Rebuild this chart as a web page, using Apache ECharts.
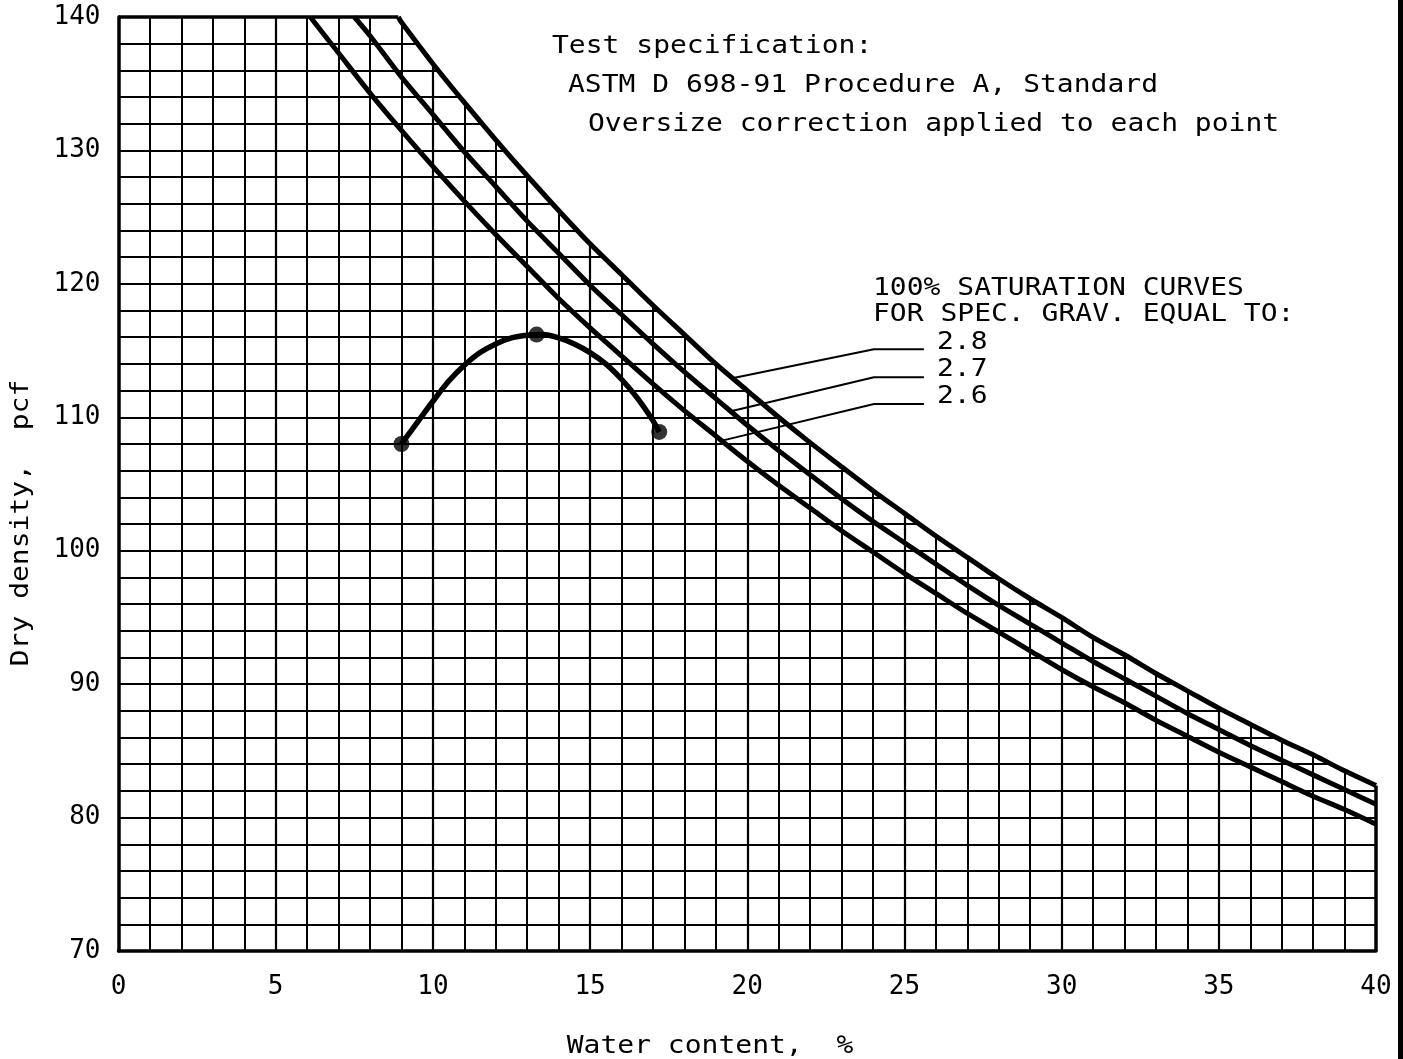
<!DOCTYPE html>
<html>
<head>
<meta charset="utf-8">
<script src="https://cdn.jsdelivr.net/npm/echarts@6/dist/echarts.min.js"></script>
<style>
html,body{margin:0;padding:0;background:#fff;}
#chart{width:1403px;height:1059px;}
</style>
</head>
<body>
<div id="chart"></div>
<script>
// Axis ranges (water content %, dry density pcf)
const xRange = [0, 40, 5];
const yRange = [70, 140, 10];

// 100% saturation curves
const sat28X = [8.9, 9, 10, 11, 12, 13, 14, 15, 16, 17, 18, 19, 20, 21, 22, 23, 24, 25, 26, 27, 28, 29, 30, 31, 32, 33, 34, 35, 36, 37, 38, 39, 40];
const sat28Y = [140, 139.6, 136.5, 133.6, 130.8, 128.1, 125.5, 123.0, 120.7, 118.4, 116.2, 114.0, 112.0, 110.0, 108.1, 106.3, 104.5, 102.8, 101.1, 99.5, 97.9, 96.4, 95.0, 93.5, 92.2, 90.8, 89.5, 88.2, 87.0, 85.8, 84.7, 83.5, 82.4];
const sat27X = [7.5, 8, 9, 10, 11, 12, 13, 14, 15, 16, 17, 18, 19, 20, 21, 22, 23, 24, 25, 26, 27, 28, 29, 30, 31, 32, 33, 34, 35, 36, 37, 38, 39, 40];
const sat27Y = [140, 138.6, 135.5, 132.7, 129.9, 127.3, 124.7, 122.3, 119.9, 117.7, 115.5, 113.4, 111.4, 109.4, 107.5, 105.7, 103.9, 102.2, 100.6, 99.0, 97.4, 95.9, 94.5, 93.1, 91.7, 90.4, 89.1, 87.8, 86.6, 85.4, 84.3, 83.2, 82.1, 81.0];
const sat26X = [6.1, 7, 8, 9, 10, 11, 12, 13, 14, 15, 16, 17, 18, 19, 20, 21, 22, 23, 24, 25, 26, 27, 28, 29, 30, 31, 32, 33, 34, 35, 36, 37, 38, 39, 40];
const sat26Y = [140, 137.3, 134.3, 131.5, 128.8, 126.2, 123.7, 121.3, 118.9, 116.7, 114.6, 112.5, 110.5, 108.6, 106.7, 104.9, 103.2, 101.5, 99.9, 98.3, 96.8, 95.3, 93.9, 92.5, 91.1, 89.8, 88.6, 87.3, 86.1, 84.9, 83.8, 82.7, 81.6, 80.6, 79.5];

// Compaction curve (fitted line) and test points
const curveX = [9.0, 9.5, 10.0, 10.5, 11.0, 11.5, 12.0, 12.5, 13.0, 13.5, 14.0, 14.5, 15.0, 15.5, 16.0, 16.5, 17.0, 17.2];
const curveY = [108.0, 109.6, 111.2, 112.7, 113.9, 114.85, 115.5, 115.95, 116.15, 116.2, 115.95, 115.5, 114.85, 114.0, 112.85, 111.45, 109.75, 108.9];
const pointsX = [9.0, 13.3, 17.2];
const pointsY = [108.0, 116.2, 108.9];

// Leader lines from the labels to the curves
const lead28X = [19.52, 24.03, 25.62];
const lead28Y = [112.93, 115.1, 115.1];
const lead27X = [19.48, 24.03, 25.62];
const lead27Y = [110.45, 113.0, 113.0];
const lead26X = [19.2, 24.03, 25.62];
const lead26Y = [108.25, 111.0, 111.0];

// Plot frame pieces (top edge stops at the 2.8 curve, right edge starts under it)
const frameTopX = [0, 8.9];
const frameTopY = [140, 140];
const frameRightX = [40, 40];
const frameRightY = [70, 82.4];

const annotationLines = ['Test specification:', 'ASTM D 698-91 Procedure A, Standard', 'Oversize correction applied to each point'];
const satLegendLines = ['100% SATURATION CURVES', 'FOR SPEC. GRAV. EQUAL TO:'];
const gsLabels = ['2.8', '2.7', '2.6'];
const xTitle = 'Water content,  %';
const yTitle = 'Dry density,  pcf';

function pairs(xs, ys) { return xs.map((x, i) => [x, ys[i]]); }

const FONT = '"DejaVu Sans Mono", monospace';
const chart = echarts.init(document.getElementById('chart'), null, {renderer: 'canvas'});

function txt(s, x, y, align) {
  return {
    type: 'text', x: x, y: y, scaleY: 0.88,
    style: {text: s, fill: '#000', font: '28px ' + FONT, textAlign: align || 'left', textVerticalAlign: 'middle'},
    z: 10
  };
}

const lineSeries = (data, w, smooth, z) => ({
  type: 'line', data: data, showSymbol: false, symbol: 'none', smooth: smooth,
  lineStyle: {color: '#000', width: w}, silent: true, animation: false, z: z || 5
});

const sat28 = lineSeries(pairs(sat28X, sat28Y), 5, 0.3, 4);
sat28.areaStyle = {color: '#fff', opacity: 1, origin: 'end'};

const frameTop = lineSeries(pairs(frameTopX, frameTopY), 3.5, false, 7);
frameTop.clip = false;
const frameRight = lineSeries(pairs(frameRightX, frameRightY), 3.5, false, 7);
frameRight.clip = false;

const option = {
  backgroundColor: '#fff',
  animation: false,
  grid: {left: 118.5, right: 27, top: 17, bottom: 108, show: false},
  xAxis: {
    type: 'value', min: xRange[0], max: xRange[1], interval: xRange[2],
    axisLine: {show: true, lineStyle: {color: '#000', width: 3.5}},
    axisTick: {show: false},
    axisLabel: {color: '#000', fontFamily: FONT, fontSize: 26, margin: 23},
    splitLine: {show: true, showMinLine: false, showMaxLine: false, lineStyle: {color: '#000', width: 2.2}},
    minorTick: {show: false, splitNumber: 5},
    minorSplitLine: {show: true, lineStyle: {color: '#000', width: 2}}
  },
  yAxis: {
    type: 'value', min: yRange[0], max: yRange[1], interval: yRange[2],
    axisLine: {show: true, lineStyle: {color: '#000', width: 3.5}},
    axisTick: {show: false},
    axisLabel: {color: '#000', fontFamily: FONT, fontSize: 26, margin: 18},
    splitLine: {show: true, showMinLine: false, showMaxLine: false, lineStyle: {color: '#000', width: 2.2}},
    minorTick: {show: false, splitNumber: 5},
    minorSplitLine: {show: true, lineStyle: {color: '#000', width: 2}}
  },
  series: [
    sat28,
    lineSeries(pairs(sat27X, sat27Y), 5, 0.3),
    lineSeries(pairs(sat26X, sat26Y), 5, 0.3),
    lineSeries(pairs(curveX, curveY), 5.5, 0.3),
    lineSeries(pairs(lead28X, lead28Y), 2, false, 6),
    lineSeries(pairs(lead27X, lead27Y), 2, false, 6),
    lineSeries(pairs(lead26X, lead26Y), 2, false, 6),
    frameTop,
    frameRight,
    {
      type: 'scatter', data: pairs(pointsX, pointsY), symbol: 'circle', symbolSize: 16,
      itemStyle: {color: '#000'}, silent: true, z: 6
    }
  ],
  graphic: [
    txt(annotationLines[0], 552, 47),
    txt(annotationLines[1], 568, 86),
    txt(annotationLines[2], 588, 125),
    txt(satLegendLines[0], 873, 289),
    txt(satLegendLines[1], 873, 315),
    txt(gsLabels[0], 937, 343),
    txt(gsLabels[1], 937, 370),
    txt(gsLabels[2], 937, 397),
    txt(xTitle, 710, 1047, 'center'),
    {
      type: 'text', x: 22, y: 523, rotation: Math.PI / 2, scaleY: 0.88,
      style: {text: yTitle, fill: '#000', font: '28px ' + FONT, textAlign: 'center', textVerticalAlign: 'middle'}
    },
    {type: 'rect', shape: {x: 1398, y: 0, width: 5, height: 1059}, style: {fill: '#000'}}
  ]
};
chart.setOption(option);
</script>
</body>
</html>
